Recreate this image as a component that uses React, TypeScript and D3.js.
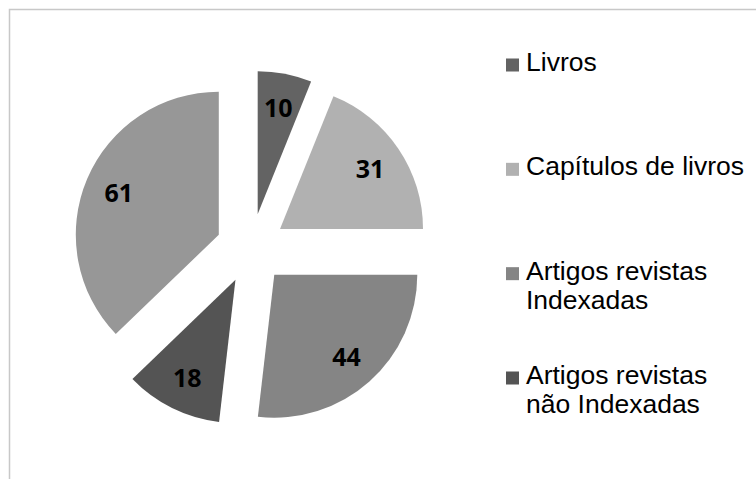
import * as d3 from "d3";

const categories = [
  "Livros",
  "Capítulos de livros",
  "Artigos revistas Indexadas",
  "Artigos revistas não Indexadas",
  "Outros",
];
const values = [10, 31, 44, 18, 61];
const colors = ["#636363", "#b1b1b1", "#858585", "#545454", "#979797"];
// legend shows only the first four entries, wrapped onto lines
const legendLines = [
  ["Livros"],
  ["Capítulos de livros"],
  ["Artigos revistas", "Indexadas"],
  ["Artigos revistas", "não Indexadas"],
];

const width = 756;
const height = 479;
const cx = 251;
const cy = 248.5;
const radius = 143;
const explode = 35;

function App() {
  const pie = d3
    .pie<number>()
    .sort(null)
    .value((d) => d)
    .startAngle(0)
    .endAngle(2 * Math.PI);
  const arcs = pie(values);
  const arc = d3.arc<d3.PieArcDatum<number>>().innerRadius(0).outerRadius(radius);

  const legendY = d3
    .scalePoint<number>()
    .domain(d3.range(legendLines.length))
    .range([71, 384]);

  return (
    <svg
      width={width}
      height={height}
      style={{ position: "absolute", left: 0, top: 0, background: "#fff" }}
    >
      <rect
        x={9.5}
        y={9.5}
        width={width + 20}
        height={height + 20}
        fill="#fff"
        stroke="#c8c8c8"
        strokeWidth={1.5}
      />
      <g transform={`translate(${cx},${cy})`}>
        {arcs.map((a, i) => {
          const mid = (a.startAngle + a.endAngle) / 2;
          const dx = explode * Math.sin(mid);
          const dy = -explode * Math.cos(mid);
          const lr = 0.76 * radius;
          return (
            <g key={i} transform={`translate(${dx},${dy})`}>
              <path d={arc(a) ?? ""} fill={colors[i]} />
              <text
                x={lr * Math.sin(mid)}
                y={-lr * Math.cos(mid)}
                textAnchor="middle"
                dominantBaseline="central"
                style={{ fontFamily: "'Open Sans', sans-serif", fontWeight: 700, fontSize: "25px" }}
                fill="#000"
              >
                {values[i]}
              </text>
            </g>
          );
        })}
      </g>
      <g style={{ fontFamily: "'Liberation Sans', Arial, sans-serif", fontSize: "26.5px" }} fill="#000">
        {legendLines.map((lines, i) => {
          const y = legendY(i) ?? 0;
          return (
            <g key={i}>
              <rect x={506} y={y - 12.5} width={13} height={13} fill={colors[i]} />
              {lines.map((t, j) => (
                <text key={j} x={526} y={y + j * 29}>
                  {t}
                </text>
              ))}
            </g>
          );
        })}
      </g>
    </svg>
  );
}

export default App;
